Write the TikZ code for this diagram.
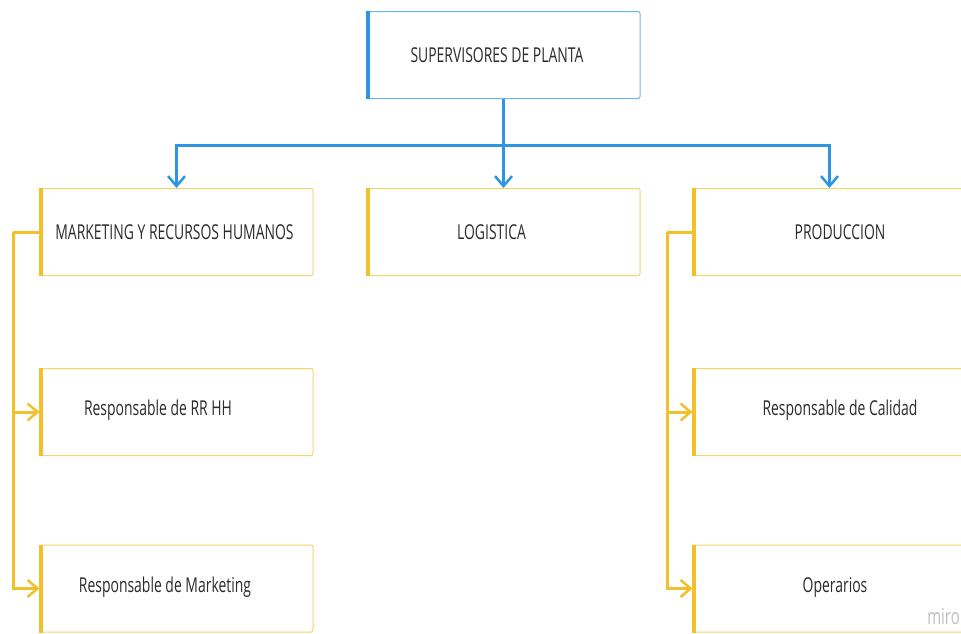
\documentclass[tikz,border=0pt]{standalone}
\usepackage{fontspec}
\setmainfont{Open Sans}[FakeStretch=0.68]
\usetikzlibrary{arrows.meta}
\definecolor{mblue}{HTML}{2E96E0}
\definecolor{mbluel}{HTML}{6DB6EA}
\definecolor{myel}{HTML}{F2C02A}
\definecolor{myell}{HTML}{F5D46E}
\definecolor{txt}{HTML}{2B2B2B}
\tikzset{
  box/.style={draw=#1, line width=1pt, rounded corners=2pt, minimum width=273pt, minimum height=87pt, fill=white, inner sep=0pt},
  lbl/.style={text=txt, font=\fontsize{20.5}{22}\selectfont, inner sep=0pt},
  bconn/.style={draw=mblue, line width=3pt},
  yconn/.style={draw=myel, line width=3pt},
  barb/.style={-{Straight Barb[length=10pt,width=17pt,line width=2.5pt]}},
}
\begin{document}
\begin{tikzpicture}[x=1pt,y=-1pt]
\useasboundingbox (0,0) rectangle (961,633);
\clip (0,0) rectangle (961,633);
% boxes
\node[box=mbluel] (sup) at (503.5,55) {};
\node[box=myell] (mk) at (176.5,232) {};
\node[box=myell] (log) at (503.5,232) {};
\node[box=myell] (pro) at (829.5,232) {};
\node[box=myell] (rr) at (176.5,412) {};
\node[box=myell] (mkt) at (176.5,588.5) {};
\node[box=myell] (cal) at (829.5,412) {};
\node[box=myell] (ope) at (829.5,588.5) {};
% thick left edges
\draw[mblue, line width=4pt] ([xshift=1pt]sup.north west) -- ([xshift=1pt]sup.south west);
\foreach \n in {mk,log,pro,rr,mkt,cal,ope}
  \draw[myel, line width=4pt] ([xshift=1pt]\n.north west) -- ([xshift=1pt]\n.south west);
% labels
\node[lbl] (tsup) at (497,55) {SUPERVISORES DE PLANTA};
\node[lbl] (tmk) at (174.5,232) {MARKETING Y RECURSOS HUMANOS};
\node[lbl] (tlog) at (491.5,232) {LOGISTICA};
\node[lbl] (tpro) at (840,232) {PRODUCCION};
\node[lbl] (trr) at (158,410) {Responsable de RR HH};
\node[lbl] (tmkt) at (165,587) {Responsable de Marketing};
\node[lbl] (tcal) at (840,410) {Responsable de Calidad};
\node[lbl] (tope) at (835,587) {Operarios};
% blue connectors
\coordinate (hub) at (503.5,145);
\draw[bconn] (sup.south) -- (hub);
\draw[bconn, barb] (hub) -| (mk.north);
\draw[bconn, barb] (hub) -- (log.north);
\draw[bconn, barb] (hub) -| (pro.north);
% yellow brackets
\coordinate (lb) at (13,232);
\coordinate (rb) at (667,232);
\draw[yconn] (mk.west) -- (lb);
\draw[yconn, barb] (lb) |- (rr.west);
\draw[yconn, barb] (lb) |- (mkt.west);
\draw[yconn] (pro.west) -- (rb);
\draw[yconn, barb] (rb) |- (cal.west);
\draw[yconn, barb] (rb) |- (ope.west);
% watermark
\node[text=black!25, font=\fontsize{22}{24}\selectfont, anchor=south east, inner sep=0pt] (miro) at (960,625) {miro};
\end{tikzpicture}
\end{document}
